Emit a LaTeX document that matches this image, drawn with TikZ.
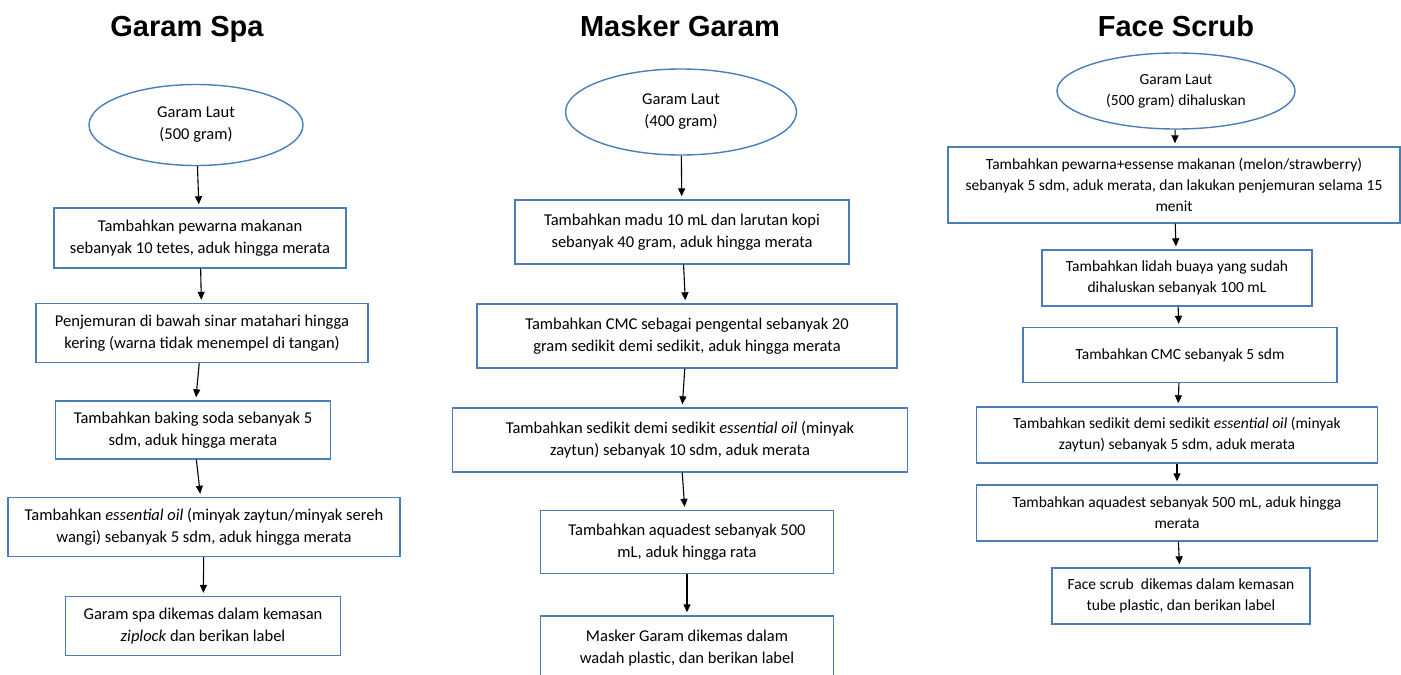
\documentclass[tikz,border=0pt]{standalone}
\usepackage{fontspec}
\setmainfont{Carlito}
\newfontfamily\titlefont{Liberation Sans}
\usetikzlibrary{shapes.geometric,arrows.meta}
\definecolor{boxblue}{RGB}{74,126,187}
\tikzset{
  judul/.style={font=\titlefont\bfseries\fontsize{29}{34}\selectfont,anchor=base},
  awal/.style={ellipse,draw=boxblue,line width=1.4pt,align=center,inner sep=0pt},
  proses/.style={rectangle,draw=boxblue,line width=1.4pt,align=center,inner sep=0pt},
  alur/.style={draw=black,line width=1.1pt,-{Triangle[length=8pt,width=7pt]},shorten >=3pt}
}
\begin{document}
\begin{tikzpicture}[x=1pt,y=-1pt]
\clip (0,0) rectangle (1401,675);

% judul
\node[judul] (T1) at (187,36) {Garam Spa};
\node[judul] (T2) at (680,36) {Masker Garam};
\node[judul] (T3) at (1176,36) {Face Scrub};

% Garam Spa
\begin{scope}[every node/.append style={font=\fontsize{16.5}{22}\selectfont}]
    \node[awal, minimum width=214pt, minimum height=81pt] (A0) at (196,125) {Garam Laut\\(500 gram)};
    \node[proses, minimum width=292pt, minimum height=60pt] (A1) at (200,238) {Tambahkan pewarna makanan\\sebanyak 10 tetes, aduk hingga merata};
    \node[proses, minimum width=332pt, minimum height=59pt] (A2) at (202,333) {Penjemuran di bawah sinar matahari hingga\\kering (warna tidak menempel di tangan)};
    \node[proses, minimum width=275pt, minimum height=58pt] (A3) at (193,430) {Tambahkan baking soda sebanyak 5\\sdm, aduk hingga merata};
    \node[proses, minimum width=392pt, minimum height=59pt] (A4) at (204,527) {Tambahkan \textit{essential oil} (minyak zaytun/minyak sereh\\wangi) sebanyak 5 sdm, aduk hingga merata};
    \node[proses, minimum width=275pt, minimum height=59pt] (A5) at (203,626) {Garam spa dikemas dalam kemasan\\\textit{ziplock} dan berikan label};
\end{scope}

% Masker Garam
\begin{scope}[every node/.append style={font=\fontsize{16.5}{22}\selectfont}]
    \node[awal, minimum width=231pt, minimum height=86pt] (B0) at (681,112) {Garam Laut\\(400 gram)};
    \node[proses, minimum width=334pt, minimum height=64pt] (B1) at (682,232) {Tambahkan madu 10 mL dan larutan kopi\\sebanyak 40 gram, aduk hingga merata};
    \node[proses, minimum width=420pt, minimum height=64pt] (B2) at (687,336) {Tambahkan CMC sebagai pengental sebanyak 20\\gram sedikit demi sedikit, aduk hingga merata};
    \node[proses, minimum width=455pt, minimum height=64pt] (B3) at (680,440) {Tambahkan sedikit demi sedikit \textit{essential oil} (minyak\\zaytun) sebanyak 10 sdm, aduk merata};
    \node[proses, minimum width=293pt, minimum height=63pt] (B4) at (687,542) {Tambahkan aquadest sebanyak 500\\mL, aduk hingga rata};
    \node[proses, minimum width=293pt, minimum height=64pt] (B5) at (687,648) {Masker Garam dikemas dalam\\wadah plastic, dan berikan label};
\end{scope}

% Face Scrub
\begin{scope}[every node/.append style={font=\fontsize{15.5}{21}\selectfont}]
    \node[awal, minimum width=238pt, minimum height=76pt] (C0) at (1176,91) {Garam Laut\\(500 gram) dihaluskan};
    \node[proses, minimum width=452pt, minimum height=76pt] (C1) at (1174,185) {Tambahkan pewarna+essense makanan (melon/strawberry)\\sebanyak 5 sdm, aduk merata, dan lakukan penjemuran selama 15\\menit};
    \node[proses, minimum width=270pt, minimum height=56pt] (C2) at (1177,278) {Tambahkan lidah buaya yang sudah\\dihaluskan sebanyak 100 mL};
    \node[proses, minimum width=314pt, minimum height=55pt] (C3) at (1180,355) {Tambahkan CMC sebanyak 5 sdm};
    \node[proses, minimum width=401pt, minimum height=56pt] (C4) at (1177,435) {Tambahkan sedikit demi sedikit \textit{essential oil} (minyak\\zaytun) sebanyak 5 sdm, aduk merata};
    \node[proses, minimum width=401pt, minimum height=56pt] (C5) at (1177,513) {Tambahkan aquadest sebanyak 500 mL, aduk hingga\\merata};
    \node[proses, minimum width=258pt, minimum height=56pt] (C6) at (1181,596) {Face scrub\ \ dikemas dalam kemasan\\tube plastic, dan berikan label};
\end{scope}

% panah
\begin{scope}[every edge/.style={alur}]
    \path (A0) edge (A1);
    \path (A1) edge (A2);
    \path (A2) edge (A3);
    \path (A3) edge (A4);
    \path (A4) edge (A5);
    \path (B0) edge (B1);
    \path (B1) edge (B2);
    \path (B2) edge (B3);
    \path (B3) edge (B4);
    \path (B4) edge (B5);
    \path (C0) edge (C1);
    \path (C1) edge (C2);
    \path (C2) edge (C3);
    \path (C3) edge (C4);
    \path (C4) edge (C5);
    \path (C5) edge (C6);
\end{scope}
\end{tikzpicture}
\end{document}
